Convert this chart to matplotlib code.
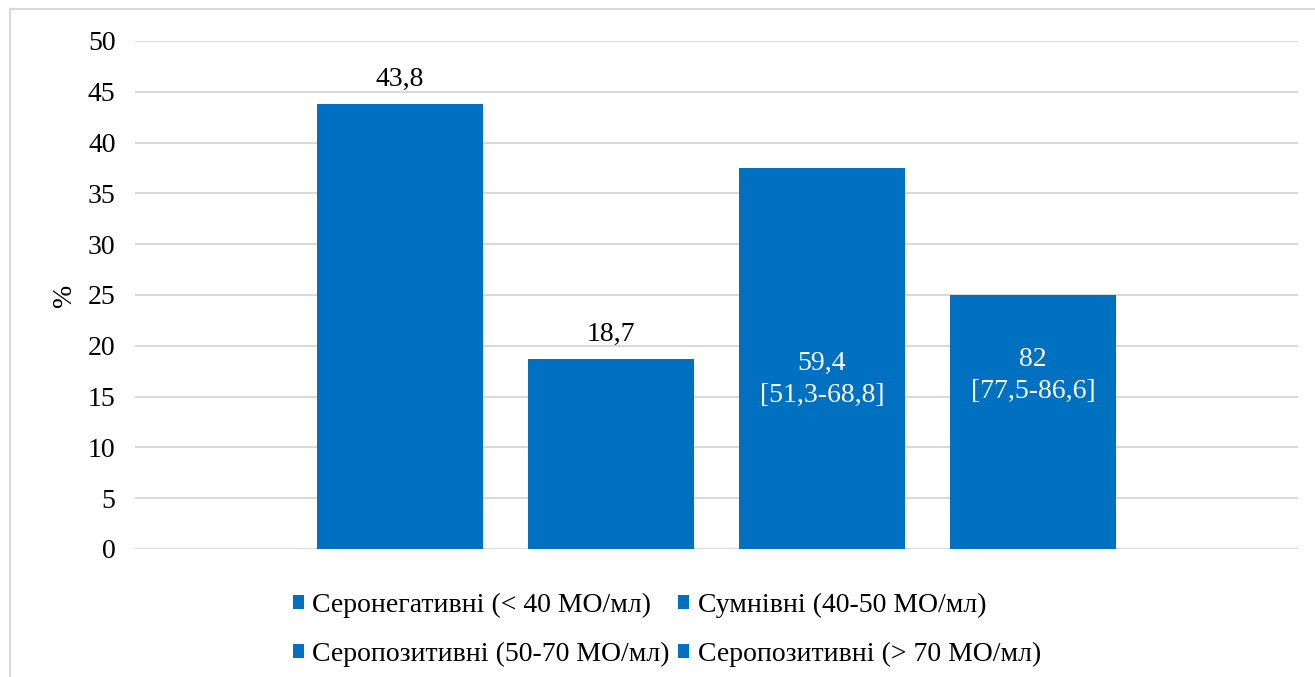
import matplotlib.pyplot as plt
from matplotlib.lines import Line2D

plt.rcParams['font.family'] = ['Liberation Serif', 'DejaVu Serif']

series = ['Серонегативні (< 40 МО/мл)', 'Сумнівні (40-50 МО/мл)',
          'Серопозитивні (50-70 МО/мл)', 'Серопозитивні (> 70 МО/мл)']
values = [43.8, 18.7, 37.5, 25.0]
labels = ['43,8', '18,7', '59,4\n[51,3-68,8]', '82\n[77,5-86,6]']
label_inside = [False, False, True, True]
label_y_inside = [None, None, 16.7, 17.1]
yticks = list(range(0, 55, 5))

color = '#0070C0'
grid = '#D9D9D9'

W, H = 1315, 677
fig = plt.figure(figsize=(W / 100, H / 100), dpi=100)
ax = fig.add_axes([135 / W, (H - 549) / H, 1163 / W, 508 / H])

x = list(range(len(values)))
bars = []
for i, (v, name) in enumerate(zip(values, series)):
    b = ax.bar(x[i], v, width=0.79, color=color, label=name, zorder=3)
    bars.append(b)

for i, (v, lab) in enumerate(zip(values, labels)):
    if label_inside[i]:
        ax.text(x[i], label_y_inside[i], lab, ha='center', va='center',
                color='white', fontsize=20, linespacing=1.35, zorder=4)
    else:
        ax.text(x[i], v + 1.2, lab, ha='center', va='bottom',
                color='black', fontsize=20, zorder=4)

ax.set_xlim(-1.256, 4.256)
ax.set_ylim(0, 50)
ax.set_yticks(yticks)
ax.set_yticklabels([str(t) for t in yticks], fontsize=20)
ax.set_xticks([])
ax.tick_params(axis='y', length=0, pad=14)
ax.yaxis.grid(True, color=grid, linewidth=1.5, zorder=0)
for s in ax.spines.values():
    s.set_visible(False)
ax.set_ylabel('%', fontsize=20, labelpad=8)

# legend is filled row by row in the reference
order = [0, 2, 1, 3]
leg = fig.legend(handles=[bars[i] for i in order],
                 labels=[series[i] for i in order], loc='upper center',
                 bbox_to_anchor=(667 / W, 1 - 582 / H), ncol=2,
                 frameon=False, fontsize=20, handlelength=0.4, handleheight=0.4,
                 handletextpad=0.3, columnspacing=0.3, labelspacing=0.85,
                 borderaxespad=0)

# outer chart border (light gray), top and left visible in the crop
fig.add_artist(Line2D([10 / W, 1], [1 - 9 / H, 1 - 9 / H], color=grid, lw=1.5))
fig.add_artist(Line2D([10 / W, 10 / W], [0, 1 - 9 / H], color=grid, lw=1.5))

fig.savefig('out.png', dpi=100)
